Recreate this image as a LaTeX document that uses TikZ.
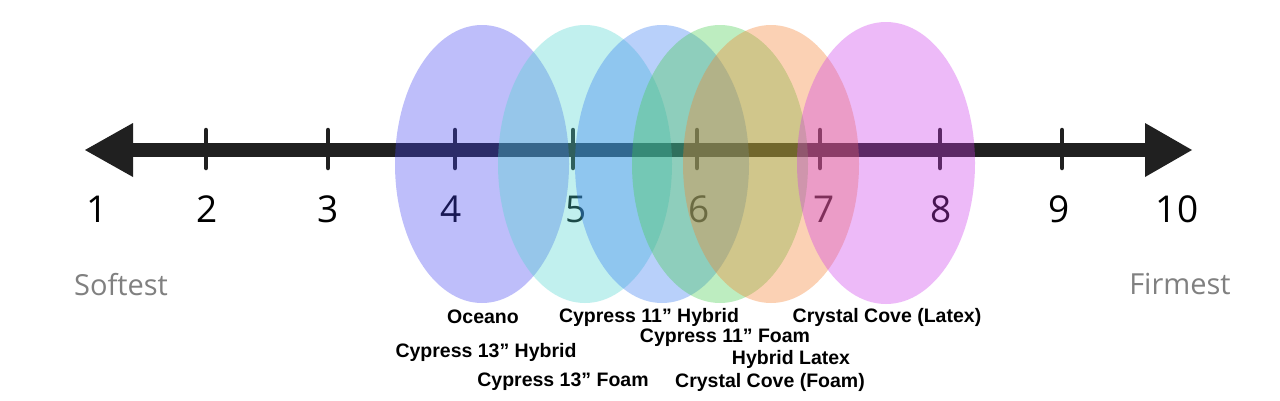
\documentclass[tikz,border=0pt]{standalone}
\usepackage{fontspec}
\setmainfont{Liberation Sans}
\newfontfamily\numfont{Open Sans}
\definecolor{axisc}{RGB}{32,32,32}
\definecolor{ePurple}{RGB}{69,69,241}
\definecolor{eCyan}{RGB}{78,213,207}
\definecolor{eBlue}{RGB}{52,121,241}
\definecolor{eGreen}{RGB}{66,204,75}
\definecolor{eOrange}{RGB}{246,126,41}
\definecolor{ePink}{RGB}{206,58,235}
\definecolor{endc}{RGB}{128,128,128}
\begin{document}
\begin{tikzpicture}[x=1pt,y=-1pt,
  numlab/.style={font=\numfont\fontsize{37}{40}\selectfont, text=black, inner sep=0pt, anchor=center},
  endlab/.style={font=\numfont\fontsize{29}{32}\selectfont, text=endc, inner sep=0pt, anchor=center},
  prodlab/.style={font=\bfseries\fontsize{19.5}{22}\selectfont, text=black, inner sep=0pt, anchor=center},
  tickmark/.style={line width=4.5pt, draw=axisc, line cap=round},
  blob/.style={fill opacity=0.35}]
\useasboundingbox (0,0) rectangle (1280,400);
\fill[white] (0,0) rectangle (1280,400);
% axis
\draw[line width=14pt, draw=axisc] (130,150) -- (1148,150);
\fill[axisc] (85,150) -- (133,123) -- (133,177) -- cycle;
\fill[axisc] (1192,150) -- (1145,123) -- (1145,177) -- cycle;
\foreach \t in {206,328,455,573,697,820,940,1062}
  \draw[tickmark] (\t,130) -- (\t,168);
% numbers
\node[numlab] (n1) at (97,209) {1};
\node[numlab] (n2) at (207,209) {2};
\node[numlab] (n3) at (328,209) {3};
\node[numlab] (n4) at (451,209) {4};
\node[numlab] (n5) at (576,209) {5};
\node[numlab] (n6) at (699,209) {6};
\node[numlab] (n7) at (824,209) {7};
\node[numlab] (n8) at (941,209) {8};
\node[numlab] (n9) at (1059,209) {9};
\node[numlab] (n10) at (1177,209) {10};
\node[endlab] (soft) at (121,285) {Softest};
\node[endlab] (firm) at (1180,284) {Firmest};
% ellipses
\fill[blob, fill=ePurple] (482,164) ellipse [x radius=87, y radius=139];
\fill[blob, fill=eCyan] (585,164) ellipse [x radius=87, y radius=139];
\fill[blob, fill=eBlue] (662,164) ellipse [x radius=87, y radius=139];
\fill[blob, fill=eGreen] (720,164) ellipse [x radius=88, y radius=139];
\fill[blob, fill=eOrange] (771,164) ellipse [x radius=88, y radius=139];
\fill[blob, fill=ePink] (886,163) ellipse [x radius=89, y radius=141];
% product labels
\node[prodlab] (oceano) at (483,317) {Oceano};
\node[prodlab] (c13h) at (486,352) {Cypress 13” Hybrid};
\node[prodlab] (c13f) at (563,382) {Cypress 13” Foam};
\node[prodlab] (c11h) at (649,317) {Cypress 11” Hybrid};
\node[prodlab] (c11f) at (725,338) {Cypress 11” Foam};
\node[prodlab] (hlat) at (791,359) {Hybrid Latex};
\node[prodlab] (ccf) at (770,382) {Crystal Cove (Foam)};
\node[prodlab] (ccl) at (887,317) {Crystal Cove (Latex)};
\end{tikzpicture}
\end{document}
